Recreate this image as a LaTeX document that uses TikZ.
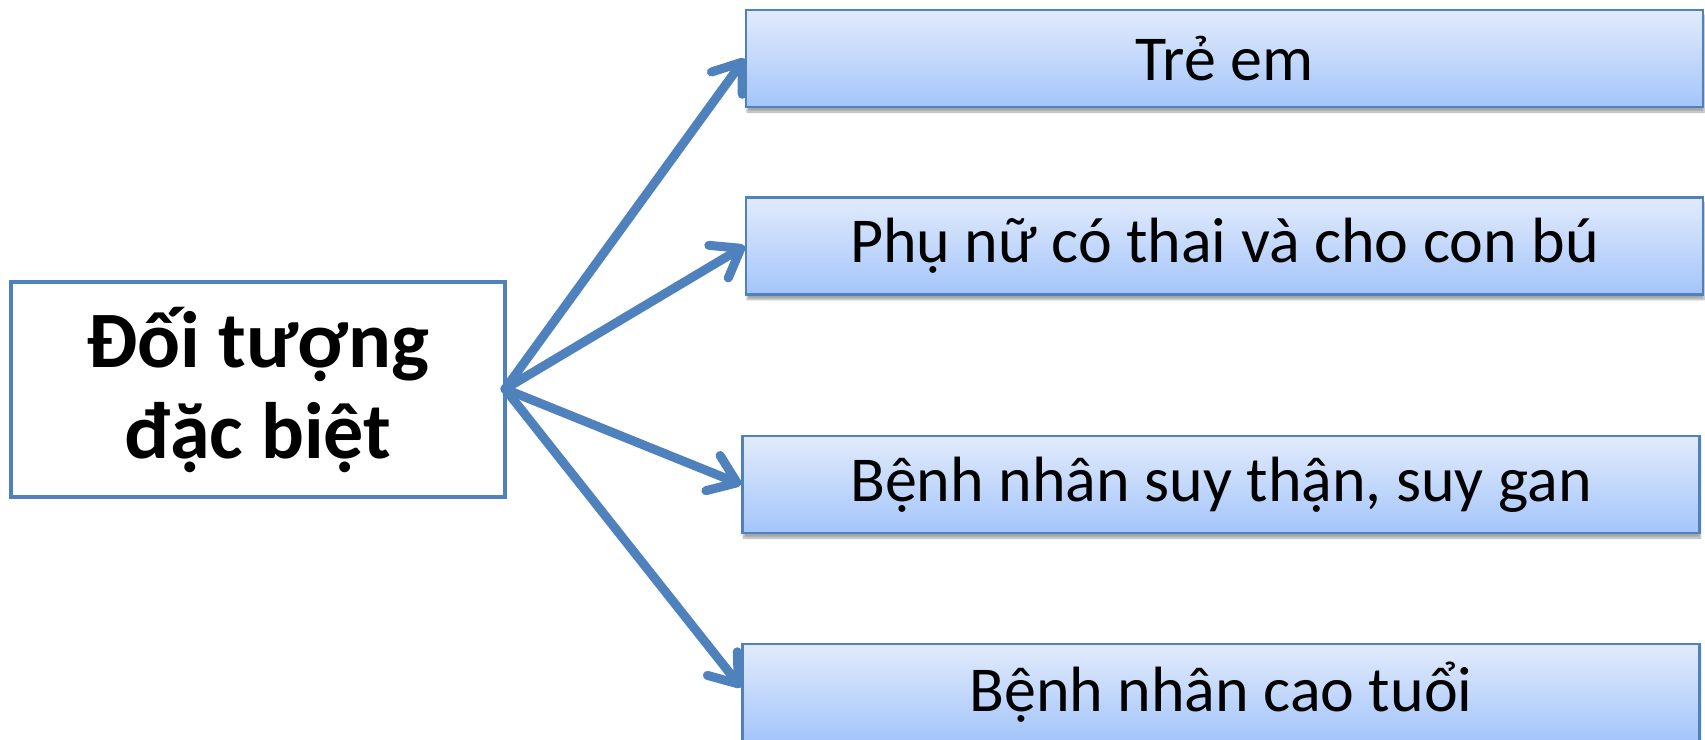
\documentclass[tikz,border=0pt]{standalone}
\usepackage{fontspec}
\setmainfont{Carlito}
\usetikzlibrary{arrows.meta,shadows.blur}
\definecolor{edgeblue}{RGB}{79,129,189}
\definecolor{filltop}{RGB}{226,235,252}
\definecolor{fillbot}{RGB}{164,197,250}
\tikzset{
  mainbox/.style={draw=edgeblue, line width=4pt, fill=white, minimum width=494pt,
    minimum height=215pt, align=center, inner sep=0pt,
    font=\fontsize{80}{91}\selectfont\bfseries},
  itembox/.style={draw=edgeblue, line width=2.5pt, top color=filltop, bottom color=fillbot,
    minimum width=957pt, minimum height=97pt, inner sep=0pt,
    font=\fontsize{64}{72}\selectfont,
    blur shadow={shadow xshift=1pt, shadow yshift=-5pt, shadow blur steps=6, shadow opacity=35}},
  link/.style={draw=edgeblue, line width=9pt, line cap=round,
    -{Straight Barb[length=26pt,width=38pt,line cap=round,line join=round]}}
}
\begin{document}
\begin{tikzpicture}[x=1pt,y=-1pt]
  \useasboundingbox (0,0) rectangle (1705,739);
  \begin{scope}
    \clip (0,0) rectangle (1705,739);
    \node[mainbox] (src) at (258,389.5) {Đối tượng\\đặc biệt};
    \node[itembox] (t1) at (1224.5,58.5) {Trẻ em};
    \node[itembox] (t2) at (1224.5,246) {Phụ nữ có thai và cho con bú};
    \node[itembox] (t3) at (1221,484.5) {Bệnh nhân suy thận, suy gan};
    \node[itembox] (t4) at (1221,692.5) {Bệnh nhân cao tuổi};
    \coordinate (hub) at (505,389);
    \draw[link] (hub) -- (t1.west);
    \draw[link] (hub) -- (t2.west);
    \draw[link] (hub) -- (t3.west);
    \draw[link] (hub) -- ([yshift=5pt]t4.west);
  \end{scope}
\end{tikzpicture}
\end{document}
